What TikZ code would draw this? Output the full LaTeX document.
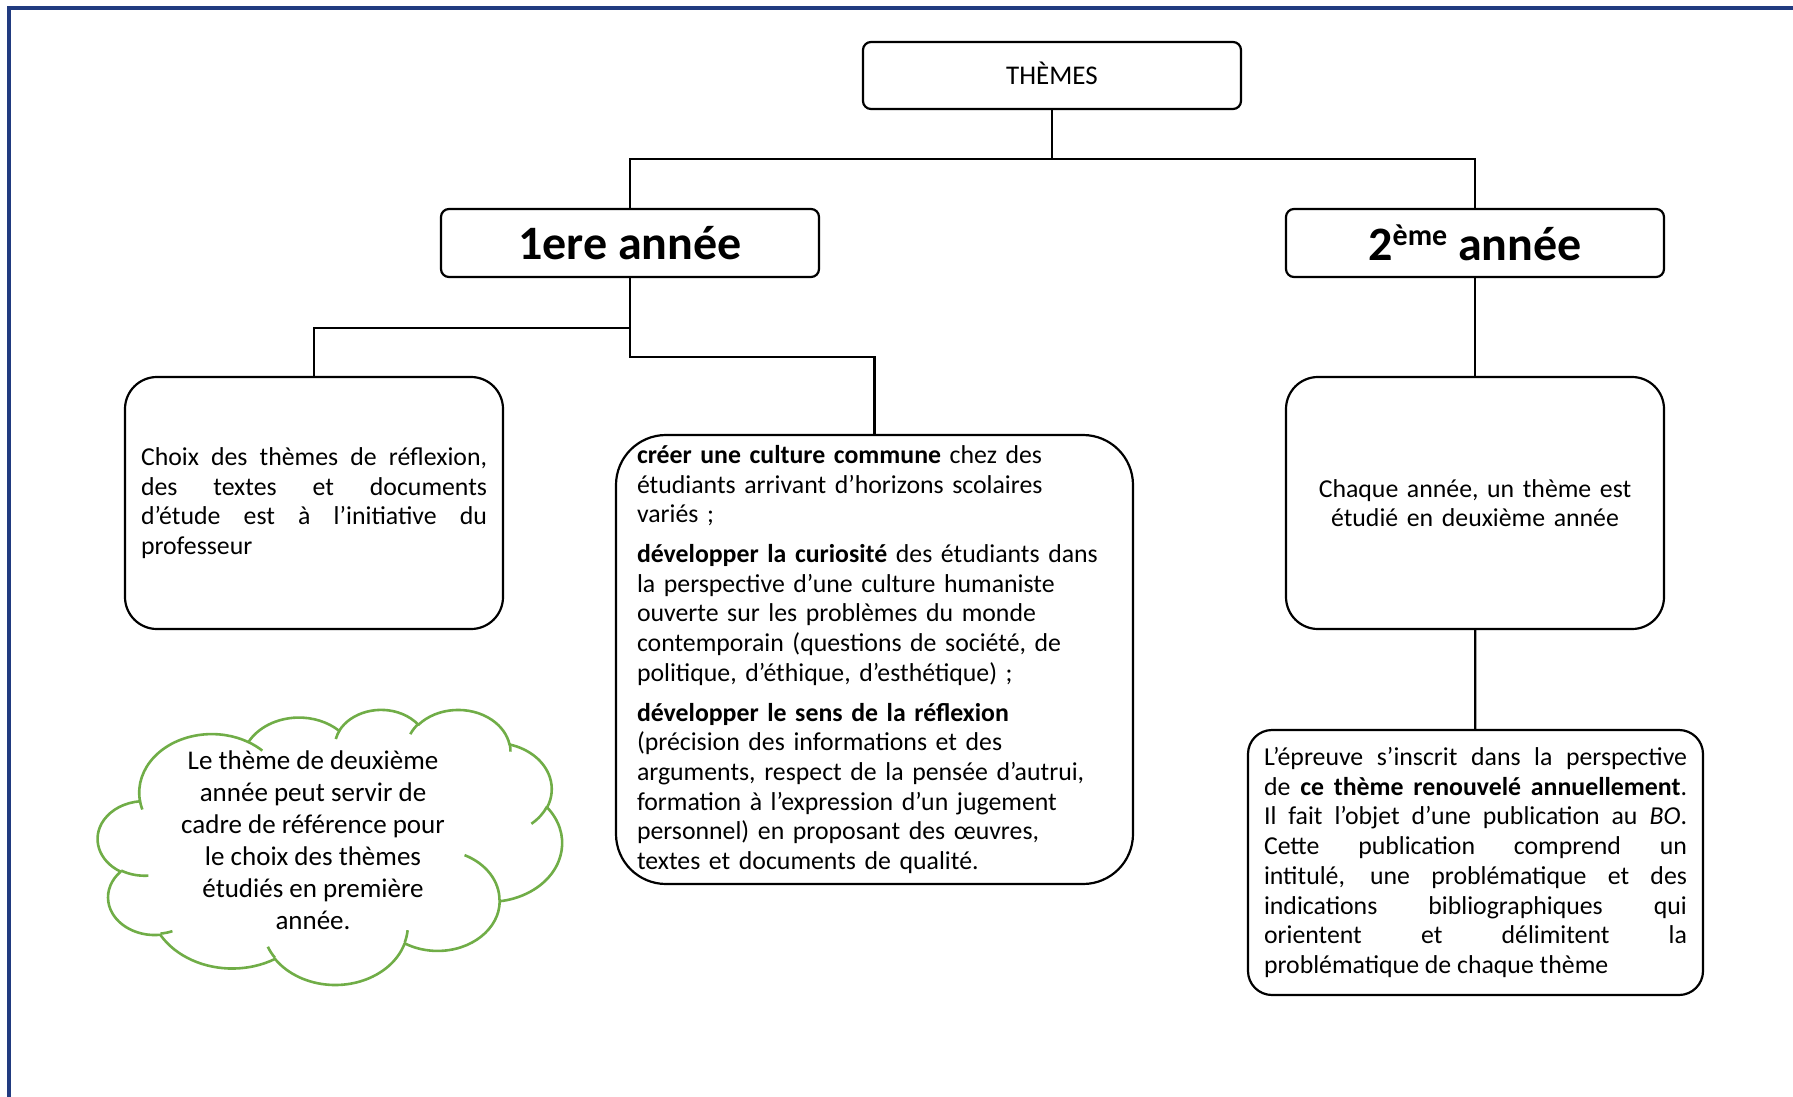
\documentclass[tikz,border=0pt]{standalone}
\usepackage{fontspec}
\setmainfont{Carlito}
\usetikzlibrary{positioning,calc}
\definecolor{frameblue}{RGB}{33,59,128}
\definecolor{cloudgreen}{RGB}{112,173,71}
\newcommand{\exposant}[1]{\raisebox{7.5pt}{\fontsize{15}{15}\selectfont #1}}

\begin{document}
\begin{tikzpicture}[
    x=0.5pt, y=-0.5pt,
    link/.style={draw=black, line width=1.1pt},
    head/.style={rectangle, draw=black, line width=1.1pt, rounded corners=4pt, minimum width=189pt, minimum height=34pt, inner sep=0pt, font=\fontsize{24}{28}\selectfont\bfseries},
    infobox/.style={rectangle, draw=black, line width=1.1pt, inner xsep=8pt, inner ysep=4pt, font=\fontsize{12.9}{14.85}\selectfont},
    cloudline/.style={draw=cloudgreen, line width=1.3pt, line join=round}
]
    \useasboundingbox (0,0) rectangle (1793,1097);
    % page frame
    \draw[frameblue, line width=2pt] (9,1097) -- (9,8) -- (1793,8);

    % headings
    \node[head, minimum height=33.5pt, text height=8.8pt, text depth=0pt, font=\fontsize{13.5}{16}\selectfont] (themes) at (1052,75.5) {THÈMES};
    \node[head] (an1) at (630,243) {1ere année};
    \node[head] (an2) at (1475,243) {2\exposant{ème} année};

    % first year
    \node[infobox, rounded corners=16pt, minimum width=189pt, minimum height=126pt, text width=173pt, align=justify] (choix) at (314,503)
        {Choix des thèmes de réflexion,\linebreak des textes et documents\linebreak d’étude est à l’initiative du\linebreak professeur};
    \node[infobox, rounded corners=25pt, inner xsep=10.5pt, minimum width=258.5pt, minimum height=224.5pt, text width=237.5pt, align=left] (culture) at (874.5,659.5) {%
        \textbf{créer une culture commune} chez des\\
        étudiants arrivant d’horizons scolaires\\
        variés ;\\[5pt]
        \textbf{développer la curiosité} des étudiants dans\\
        la perspective d’une culture humaniste\\
        ouverte sur les problèmes du monde\\
        contemporain (questions de société, de\\
        politique, d’éthique, d’esthétique) ;\\[5pt]
        \textbf{développer le sens de la réflexion}\\
        (précision des informations et des\\
        arguments, respect de la pensée d’autrui,\\
        formation à l’expression d’un jugement\\
        personnel) en proposant des œuvres,\\
        textes et documents de qualité.};

    % second year
    \node[infobox, rounded corners=16pt, minimum width=189pt, minimum height=126pt, text width=173pt, align=center] (chaque) at (1475,503)
        {Chaque année, un thème est\\étudié en deuxième année};
    \node[infobox, rounded corners=12pt, minimum width=227.5pt, minimum height=132.5pt, text width=211.5pt, align=justify] (epreuve) at (1475.5,862.5)
        {L’épreuve s’inscrit dans la perspective\linebreak
        de \textbf{ce thème renouvelé annuellement}.\linebreak
        Il fait l’objet d’une publication au \textit{BO}.\linebreak
        Cette publication comprend un\linebreak
        intitulé, une problématique et des\linebreak
        indications bibliographiques qui\linebreak
        orientent et délimitent la\linebreak
        problématique de chaque thème};

    % connectors
    \coordinate (top) at (1052,159);
    \draw[link] (themes.south) -- (top);
    \draw[link] (an1.north) |- (top) -| (an2.north);
    \draw[link] (an1.south) -- ++(0,50) -| (choix.north);
    \draw[link] (an1.south) -- ++(0,79) -| (culture.north);
    \draw[link] (an2) -- (chaque);
    \draw[link] (chaque) -- (epreuve);

    % cloud
    \begin{scope}[shift={(98,709)}, x=0.53704pt, y=-0.31829pt]
        \draw[cloudline] (39.00,143.70)
            arc[start angle=172.25, delta angle=128.11, x radius=67.53, y radius=91.90]
            arc[start angle=-152.02, delta angle=106.56, x radius=53.33, y radius=72.67]
            arc[start angle=-153.49, delta angle=116.16, x radius=43.65, y radius=59.45]
            arc[start angle=-139.71, delta angle=129.50, x radius=48.57, y radius=65.95]
            arc[start angle=-74.77, delta angle=97.98, x radius=53.33, y radius=72.73]
            arc[start angle=-37.52, delta angle=119.39, x radius=67.75, y radius=92.20]
            arc[start angle=0.46, delta angle=121.52, x radius=57.85, y radius=78.67]
            arc[start angle=16.84, delta angle=129.39, x radius=67.52, y radius=92.15]
            arc[start angle=58.98, delta angle=91.21, x radius=77.20, y radius=105.43]
            arc[start angle=83.30, delta angle=139.79, x radius=43.60, y radius=59.18]
            arc[start angle=120.35, delta angle=143.76, x radius=43.45, y radius=59.45]
            -- cycle;
        \draw[cloudline]
            (46.93,261.77) arc[start angle=85.55, delta angle=34.80, x radius=43.45, y radius=59.45]
            (69.28,348.99) arc[start angle=68.23, delta angle=15.07, x radius=43.60, y radius=59.18]
            (164.78,390.90) arc[start angle=146.23, delta angle=12.25, x radius=67.52, y radius=92.15]
            (288.27,347.51) arc[start angle=4.74, delta angle=12.10, x radius=67.52, y radius=92.15]
            (341.29,229.54) arc[start angle=-64.03, delta angle=64.49, x radius=57.85, y radius=78.67]
            (417.98,153.54) arc[start angle=23.21, delta angle=26.43, x radius=53.33, y radius=72.73]
            (383.24,54.26) arc[start angle=-10.21, delta angle=11.03, x radius=48.57, y radius=65.95]
            (290.78,39.52) arc[start angle=-156.29, delta angle=16.58, x radius=48.57, y radius=65.95]
            (221.41,47.20) arc[start angle=-167.73, delta angle=14.38, x radius=43.65, y radius=59.45]
            (140.00,51.92) arc[start angle=-59.64, delta angle=13.90, x radius=67.53, y radius=91.90]
            (41.27,157.89) arc[start angle=163.20, delta angle=9.06, x radius=67.53, y radius=91.90];
    \end{scope}
    \node[align=center, font=\fontsize{13.5}{16}\selectfont] (cloudtxt) at (313,840)
        {Le thème de deuxième\\année peut servir de\\cadre de référence pour\\le choix des thèmes\\étudiés en première\\année.};
\end{tikzpicture}
\end{document}
